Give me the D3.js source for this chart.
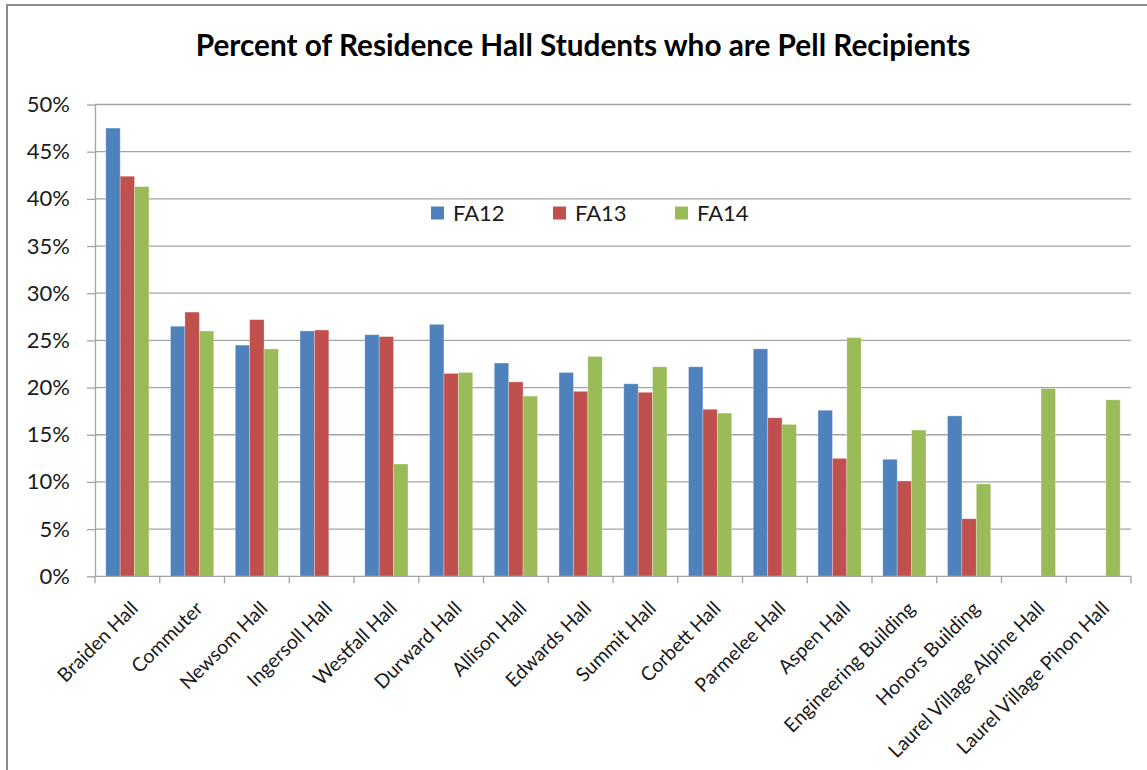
<!DOCTYPE html>
<html>
<head>
<meta charset="utf-8">
<script src="https://cdn.jsdelivr.net/npm/d3@7"></script>
<style>
  html, body { margin: 0; padding: 0; background: #fff; }
  svg { display: block; font-family: Lato, "Open Sans", sans-serif; }
</style>
</head>
<body>
<svg id="chart" width="1147" height="770"></svg>
<script>
// Residence halls / groups, in display order
const categories = [
  "Braiden Hall", "Commuter", "Newsom Hall", "Ingersoll Hall", "Westfall Hall",
  "Durward Hall", "Allison Hall", "Edwards Hall", "Summit Hall", "Corbett Hall",
  "Parmelee Hall", "Aspen Hall", "Engineering Building", "Honors Building",
  "Laurel Village Alpine Hall", "Laurel Village Pinon Hall"
];

const seriesNames = ["FA12", "FA13", "FA14"];
const seriesColors = ["#4F81BD", "#C0504D", "#9BBB59"];

// Share of students receiving Pell grants (null = no data for that term)
const fa12 = [0.475, 0.265, 0.245, 0.260, 0.256, 0.267, 0.226, 0.216, 0.204, 0.222, 0.241, 0.176, 0.124, 0.170, null, null];
const fa13 = [0.424, 0.280, 0.272, 0.261, 0.254, 0.215, 0.206, 0.196, 0.195, 0.177, 0.168, 0.125, 0.101, 0.061, null, null];
const fa14 = [0.413, 0.260, 0.241, null, 0.119, 0.216, 0.191, 0.233, 0.222, 0.173, 0.161, 0.253, 0.155, 0.098, 0.199, 0.187];

const yTicks = [0, 0.05, 0.10, 0.15, 0.20, 0.25, 0.30, 0.35, 0.40, 0.45, 0.50];

const titleText = "Percent of Residence Hall Students who are Pell Recipients";

const seriesValues = [fa12, fa13, fa14];

const svg = d3.select("#chart");

// outer frame
svg.append("rect")
  .attr("x", 7).attr("y", 5)
  .attr("width", 1200).attr("height", 800)
  .attr("fill", "none")
  .attr("stroke", "#8c8c8c")
  .attr("stroke-width", 2);

const plot = { left: 95, right: 1131, top: 104.5, bottom: 576.3 };

const x = d3.scaleBand()
  .domain(categories)
  .range([plot.left, plot.right])
  .paddingInner(0)
  .paddingOuter(0);

// gap between groups = 1.5 bar widths
const xs = d3.scaleBand()
  .domain(seriesNames)
  .range([0, x.bandwidth()])
  .paddingInner(0)
  .paddingOuter(0.75);

const y = d3.scaleLinear()
  .domain([0, 0.5])
  .range([plot.bottom, plot.top]);

const gridColor = "#a3a3a3";

// horizontal gridlines
svg.append("g")
  .selectAll("line")
  .data(yTicks.filter(t => t > 0))
  .join("line")
  .attr("x1", plot.left).attr("x2", plot.right)
  .attr("y1", d => y(d)).attr("y2", d => y(d))
  .attr("stroke", gridColor)
  .attr("stroke-width", 1.3);

// y axis
const yAxis = svg.append("g")
  .attr("transform", `translate(${plot.left},0)`)
  .call(d3.axisLeft(y)
    .tickValues(yTicks)
    .tickFormat(d3.format(".0%"))
    .tickSize(8)
    .tickSizeOuter(0)
    .tickPadding(17));
yAxis.select(".domain").attr("stroke", gridColor).attr("stroke-width", 1.3);
yAxis.selectAll(".tick line").attr("stroke", gridColor).attr("stroke-width", 1.3);
yAxis.selectAll(".tick text")
  .attr("font-size", 22)
  .attr("font-family", "Lato, sans-serif")
  .attr("fill", "#1a1a1a");

// bars
const rows = categories.map((c, i) => ({
  cat: c,
  vals: seriesNames.map((s, j) => ({ s, j, v: seriesValues[j][i] }))
}));

svg.append("g")
  .selectAll("g")
  .data(rows)
  .join("g")
  .attr("transform", d => `translate(${x(d.cat)},0)`)
  .selectAll("rect")
  .data(d => d.vals.filter(e => e.v !== null))
  .join("rect")
  .attr("x", e => xs(e.s))
  .attr("width", xs.bandwidth())
  .attr("y", e => y(e.v))
  .attr("height", e => y(0) - y(e.v))
  .attr("fill", e => seriesColors[e.j])
  .attr("stroke", "rgba(255,255,255,0.35)")
  .attr("stroke-width", 0.8);

// x axis line and category separators
const xAxis = svg.append("g")
  .attr("transform", `translate(0,${plot.bottom})`);
xAxis.append("line")
  .attr("x1", plot.left).attr("x2", plot.right)
  .attr("stroke", gridColor).attr("stroke-width", 1.3);
const boundaries = categories.map(c => x(c)).concat([plot.right]);
xAxis.selectAll("line.sep")
  .data(boundaries)
  .join("line")
  .attr("class", "sep")
  .attr("x1", d => d).attr("x2", d => d)
  .attr("y1", 0).attr("y2", 7)
  .attr("stroke", gridColor).attr("stroke-width", 1.3);

// rotated category labels
svg.append("g")
  .selectAll("text")
  .data(categories)
  .join("text")
  .attr("transform", c => `translate(${x(c) + x.bandwidth() / 2 + 7},605) rotate(-45)`)
  .attr("text-anchor", "end")
  .attr("dy", "0.35em")
  .attr("font-size", 19.5)
  .attr("fill", "#1a1a1a")
  .text(c => c);

// legend
const legend = svg.append("g");
const legendX = [431, 553, 675];
seriesNames.forEach((s, j) => {
  legend.append("rect")
    .attr("x", legendX[j]).attr("y", 206.5)
    .attr("width", 13).attr("height", 13)
    .attr("fill", seriesColors[j]);
  legend.append("text")
    .attr("x", legendX[j] + 22).attr("y", 221)
    .attr("font-size", 22)
    .attr("fill", "#1a1a1a")
    .text(s);
});

// title, sized to span its target width
const title = svg.append("text")
  .attr("x", 583).attr("y", 56)
  .attr("text-anchor", "middle")
  .attr("font-weight", "bold")
  .attr("font-size", 26)
  .attr("fill", "#000")
  .text(titleText);
const w = title.node().getComputedTextLength();
title.attr("font-size", 26 * 775 / w);
</script>
</body>
</html>
